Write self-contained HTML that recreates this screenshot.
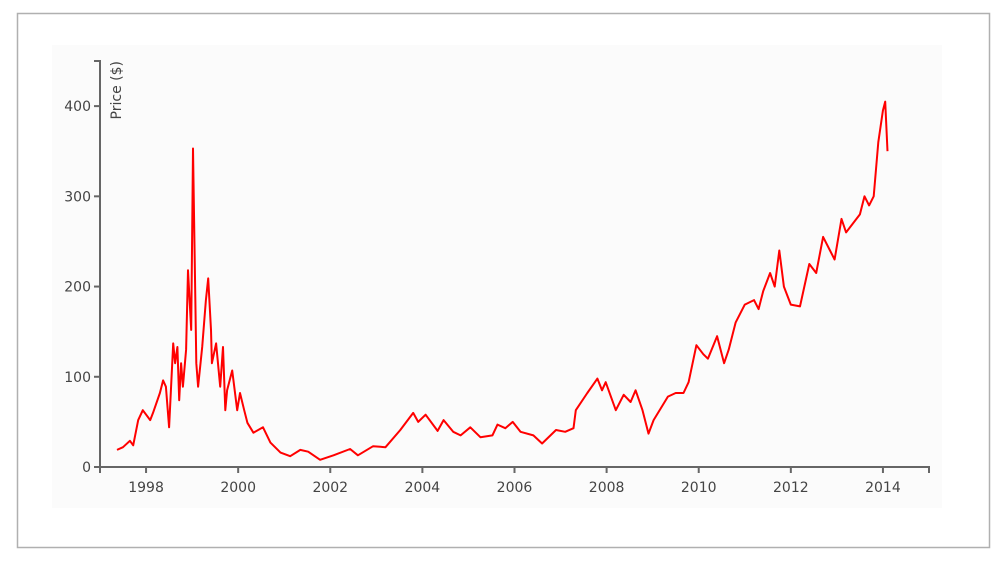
<!DOCTYPE html>
<html><head><meta charset="utf-8"><style>
html,body{margin:0;padding:0;background:#fff;}
svg{display:block;font-family:"DejaVu Sans","Liberation Sans",sans-serif;}
</style></head><body>
<svg width="1006" height="566">
<rect x="17.5" y="13.5" width="972" height="534" fill="#fff" stroke="#b0b0b0" stroke-width="1.5"/>
<rect x="52" y="45" width="890" height="463" fill="#fbfbfb"/>
<g id="axes"></g>
<path id="line" fill="none" stroke="#ff0000" stroke-width="2" stroke-linejoin="round"/>
</svg>
<script>
const dates=[1997.37,1997.5,1997.65,1997.72,1997.83,1997.93,1998.09,1998.15,1998.3,1998.37,1998.43,1998.5,1998.59,1998.63,1998.68,1998.72,1998.76,1998.8,1998.87,1998.91,1998.98,1999.02,1999.07,1999.09,1999.13,1999.22,1999.3,1999.35,1999.41,1999.43,1999.52,1999.61,1999.67,1999.72,1999.76,1999.87,1999.98,2000.04,2000.13,2000.2,2000.33,2000.54,2000.7,2000.92,2001.13,2001.35,2001.52,2001.78,2002.07,2002.43,2002.6,2002.93,2003.2,2003.52,2003.8,2003.91,2004.07,2004.33,2004.46,2004.67,2004.83,2005.04,2005.26,2005.52,2005.63,2005.8,2005.96,2006.13,2006.41,2006.6,2006.9,2007.1,2007.28,2007.33,2007.58,2007.8,2007.9,2007.98,2008.2,2008.37,2008.52,2008.63,2008.78,2008.91,2009.02,2009.33,2009.5,2009.67,2009.78,2009.95,2010.1,2010.2,2010.4,2010.55,2010.65,2010.8,2011.0,2011.2,2011.3,2011.4,2011.55,2011.65,2011.75,2011.85,2012.0,2012.2,2012.4,2012.55,2012.7,2012.85,2012.95,2013.1,2013.2,2013.35,2013.5,2013.6,2013.7,2013.8,2013.9,2014.0,2014.05,2014.1];
const prices=[19,22,29,24,52,63,52,60,82,96,89,44,137,115,133,74,115,89,130,218,152,353,188,115,89,133,185,209,152,115,137,89,133,63,85,107,63,82,63,49,38,44,27,16,12,19,17,8,13,20,13,23,22,41,60,50,58,40,52,39,35,44,33,35,47,43,50,39,35,26,41,39,43,63,82,98,85,94,63,80,72,85,63,37,52,78,82,82,94,135,125,120,145,115,130,160,180,185,175,195,215,200,240,200,180,178,225,215,255,240,230,275,260,270,280,300,290,300,360,395,405,350];
const yTicks=[0,100,200,300,400];
const xTicks=[1998,2000,2002,2004,2006,2008,2010,2012,2014];
const X0=100,X1=929,Y0=467,Y1=61;
function x(t){return X0+(t-1997)/(2015-1997)*(X1-X0);}
function y(v){return Y0-v/450*(Y0-Y1);}
const NS="http://www.w3.org/2000/svg";
const g=document.getElementById('axes');
function mk(tag,attrs,parent){const e=document.createElementNS(NS,tag);for(const k in attrs)e.setAttribute(k,attrs[k]);(parent||g).appendChild(e);return e;}
const ya=mk('path',{d:`M${X0-6},${Y1}H${X0}V${Y0}H${X0-6}`,fill:'none',stroke:'#666','stroke-width':2});


const xa=mk('path',{d:`M${X0},${Y0+6}V${Y0}H${X1}V${Y0+6}`,fill:'none',stroke:'#666','stroke-width':2});


yTicks.forEach(v=>{
 const l=mk('line',{x1:X0-6,x2:X0,y1:y(v),y2:y(v),stroke:'#666','stroke-width':2});
 
 
 const t=mk('text',{x:X0-9,y:y(v)+5,'text-anchor':'end','font-size':14,fill:'#444'});
 t.textContent=v;
 
 
});
xTicks.forEach(v=>{
 const l=mk('line',{x1:x(v),x2:x(v),y1:Y0,y2:Y0+6,stroke:'#666','stroke-width':2});
 
 
 const t=mk('text',{x:x(v),y:Y0+25,'text-anchor':'middle','font-size':14,fill:'#444'});
 t.textContent=v;
 
 
});
const yt=mk('text',{transform:`translate(${X0+21},${Y1}) rotate(-90)`,'text-anchor':'end','font-size':14,fill:'#444'});
yt.textContent='Price ($)';


document.getElementById('line').setAttribute('d',dates.map((d,i)=>(i?'L':'M')+x(d).toFixed(1)+','+y(prices[i]).toFixed(1)).join(''));
</script>
</body></html>
